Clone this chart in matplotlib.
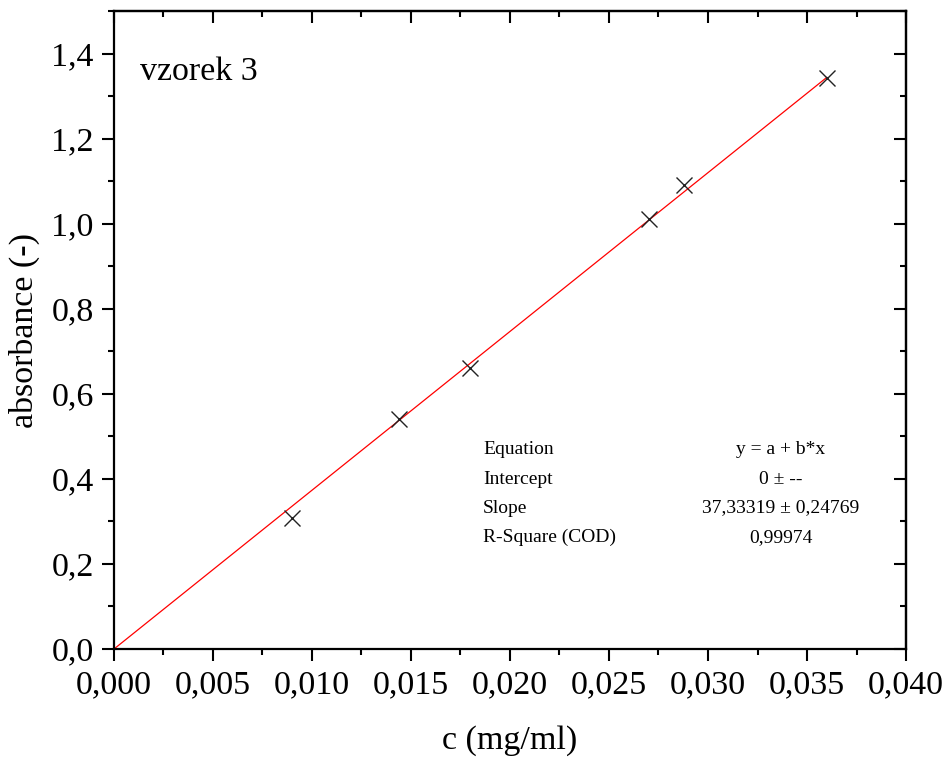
import matplotlib
matplotlib.use("Agg")
import matplotlib.pyplot as plt
from matplotlib.ticker import MultipleLocator, FuncFormatter
import numpy as np

# Measured calibration points for sample 3
conc = [0.0090, 0.0144, 0.0180, 0.0270, 0.0288, 0.0360]
absorb = [0.308, 0.541, 0.661, 1.011, 1.091, 1.343]

# Linear fit through origin
slope = 37.33319
slope_err = 0.24769
r_square = 0.99974

fit_labels = ["Equation", "Intercept", "Slope", "R-Square (COD)"]
fit_values = ["y = a + b*x", "0 \u00b1 --", "37,33319 \u00b1 0,24769", "0,99974"]

plt.rcParams["font.family"] = ["Liberation Serif", "DejaVu Serif"]

fig = plt.figure(figsize=(9.49, 7.65), dpi=100)
ax = fig.add_axes([0.1201, 0.1516, 0.8346, 0.834])

ax.plot(conc, absorb, linestyle="none", marker="x", markersize=12,
        markeredgewidth=1.0, color="#222222", zorder=3)

xfit = np.array([0.0, max(conc)])
ax.plot(xfit, slope * xfit, color="red", linewidth=0.9, zorder=2)

ax.set_xlim(0, 0.040)
ax.set_ylim(0, 1.5)

comma = lambda fmt: FuncFormatter(lambda v, p: (fmt % v).replace(".", ","))
ax.xaxis.set_major_locator(MultipleLocator(0.005))
ax.xaxis.set_minor_locator(MultipleLocator(0.0025))
ax.yaxis.set_major_locator(MultipleLocator(0.2))
ax.yaxis.set_minor_locator(MultipleLocator(0.1))
ax.xaxis.set_major_formatter(comma("%.3f"))
ax.yaxis.set_major_formatter(comma("%.1f"))

for s in ax.spines.values():
    s.set_linewidth(1.6)

ax.tick_params(which="major", direction="out", length=8.6, width=1.5,
               labelsize=24.5, pad=6)
ax.tick_params(which="minor", direction="out", length=4.5, width=1.5)

# Inward ticks on the top and right frame edges
top = ax.secondary_xaxis("top")
top.xaxis.set_major_locator(MultipleLocator(0.005))
top.xaxis.set_minor_locator(MultipleLocator(0.0025))
top.tick_params(which="major", direction="in", length=8.6, width=1.5, labeltop=False)
top.tick_params(which="minor", direction="in", length=4.5, width=1.5)
top.spines["top"].set_linewidth(1.6)
right = ax.secondary_yaxis("right")
right.yaxis.set_major_locator(MultipleLocator(0.2))
right.yaxis.set_minor_locator(MultipleLocator(0.1))
right.tick_params(which="major", direction="in", length=8.6, width=1.5, labelright=False)
right.tick_params(which="minor", direction="in", length=4.5, width=1.5)
right.spines["right"].set_linewidth(1.6)

ax.set_xlabel("c (mg/ml)", fontsize=24.5, labelpad=18)
ax.set_ylabel("absorbance (-)", fontsize=24.5, labelpad=8)

ax.text(0.033, 0.905, "vzorek 3", transform=ax.transAxes, fontsize=24.5,
        ha="left", va="center")

rows_y = [0.313, 0.266, 0.221, 0.175]
for lab, val, yy in zip(fit_labels, fit_values, rows_y):
    ax.text(0.466, yy, lab, transform=ax.transAxes, fontsize=14,
            ha="left", va="center")
    ax.text(0.842, yy, val, transform=ax.transAxes, fontsize=14,
            ha="center", va="center")

fig.savefig("out.png", dpi=100)
